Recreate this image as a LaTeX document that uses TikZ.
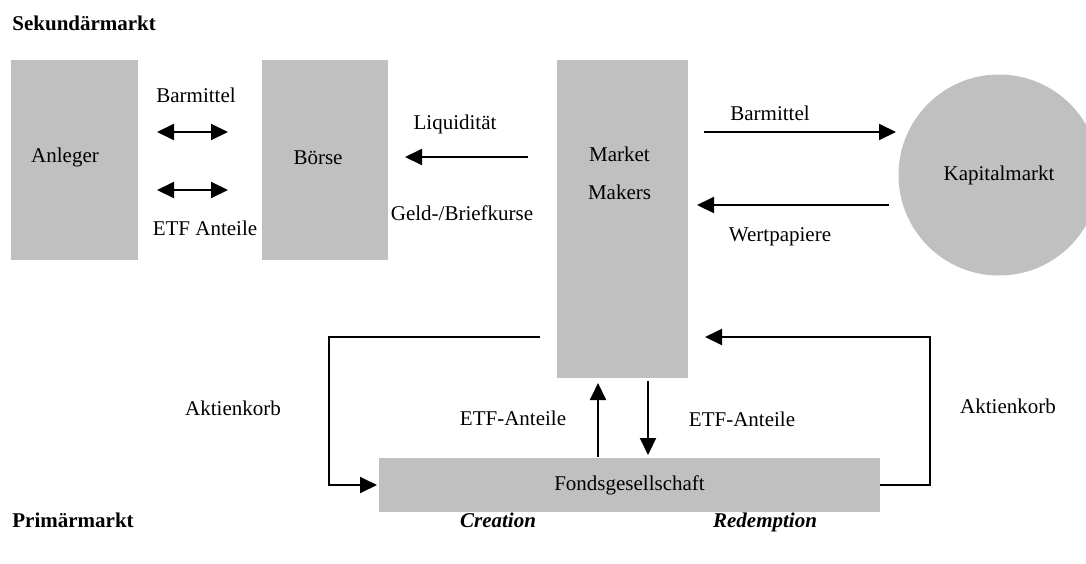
\documentclass[tikz,border=0pt]{standalone}
\usepackage{fontspec}
\setmainfont{Liberation Serif}
\usepackage{tikz}
\usetikzlibrary{arrows.meta,calc}
\definecolor{boxgray}{RGB}{192,192,192}

\begin{document}
\begin{tikzpicture}[x=0.5pt,y=-0.5pt, every node/.style={font=\fontsize{10.5}{12.6}\selectfont}, box/.style={fill=boxgray,draw=none,inner sep=0pt,outer sep=0pt}, arr/.style={-{Triangle[length=8.5pt,width=8pt]},line width=1pt}, dblarr/.style={{Triangle[length=8.5pt,width=8pt]}-{Triangle[length=8.5pt,width=8pt]},line width=1pt}, lbl/.style={inner sep=0pt}, title/.style={inner sep=0pt,anchor=base west,font=\fontsize{10.5}{12.6}\selectfont\bfseries}, case/.style={inner sep=0pt,anchor=base,font=\fontsize{10.5}{12.6}\selectfont\bfseries\itshape}]
\useasboundingbox (0,0) rectangle (1086,563);
\node[title] (sek) at (12,30) {Sekund\"armarkt};
\node[title] (prim) at (12,527) {Prim\"armarkt};
\node[case] (creation) at (498,527) {Creation};
\node[case] (redemption) at (765,527) {Redemption};
\node[box,minimum width=63.5pt,minimum height=100pt,label={[xshift=-4.75pt,yshift=1.5pt]center:Anleger}] (anleger) at (74.5,160) {};
\node[box,minimum width=63pt,minimum height=100pt,label={[xshift=-3.5pt,yshift=1pt]center:B\"orse}] (boerse) at (325,160) {};
\node[box,minimum width=65.5pt,minimum height=159pt,label={[align=center,xshift=-1.5pt,yshift=23pt]center:Market\\[6.4pt]Makers}] (mm) at (622.5,219) {};
\node[box,circle,minimum size=100.5pt] (kap) at (999,175) {Kapitalmarkt};
\node[box,minimum width=250.5pt,minimum height=27pt] (fonds) at (629.5,485) {Fondsgesellschaft};
% Anleger <-> Boerse
\draw[dblarr,shorten <=9.5pt,shorten >=17pt] (anleger.east |- 0,132) -- (boerse.west |- 0,132);
\draw[dblarr,shorten <=9.5pt,shorten >=17pt] (anleger.east |- 0,190) -- (boerse.west |- 0,190);
\node[lbl] (barmittel1) at (196,95) {Barmittel};
\node[lbl] (etfant) at (205,228) {ETF Anteile};
% Market Makers -> Boerse
\draw[arr,shorten <=14.5pt,shorten >=8.5pt] (mm.west |- 0,157) -- (boerse.east |- 0,157);
\node[lbl] (liquid) at (455,124) {Liquidit\"at};
\node[lbl] (geldbrief) at (462,213) {Geld-/Briefkurse};
% Market Makers <-> Kapitalmarkt
\draw[arr,shorten <=8pt,shorten >=1.25pt] (mm.east |- 0,132) -- (kap.west |- 0,132);
\draw[arr,shorten <=4.75pt,shorten >=4.5pt] (kap.west |- 0,205) -- (mm.east |- 0,205);
\node[lbl] (barmittel2) at (770,113) {Barmittel};
\node[lbl] (wertpap) at (780,237) {Wertpapiere};
% Primaermarkt
\draw[arr,shorten <=8.5pt,shorten >=1pt] (mm.west |- 0,337) -- (329,337) |- (fonds.west);
\draw[arr,shorten >=8.5pt] (fonds.east) -| (930,337) -- (mm.east |- 0,337);
\node[lbl] (korb1) at (233,408) {Aktienkorb};
\node[lbl] (korb2) at (1008,406) {Aktienkorb};
\draw[arr,shorten <=0.5pt,shorten >=2.5pt] (fonds.north -| 598,0) -- (mm.south -| 598,0);
\draw[arr,shorten <=1.5pt,shorten >=1.5pt] (mm.south -| 648,0) -- (fonds.north -| 648,0);
\node[lbl] (etfup) at (513,418) {ETF-Anteile};
\node[lbl] (etfdown) at (742,419) {ETF-Anteile};
\end{tikzpicture}
\end{document}
